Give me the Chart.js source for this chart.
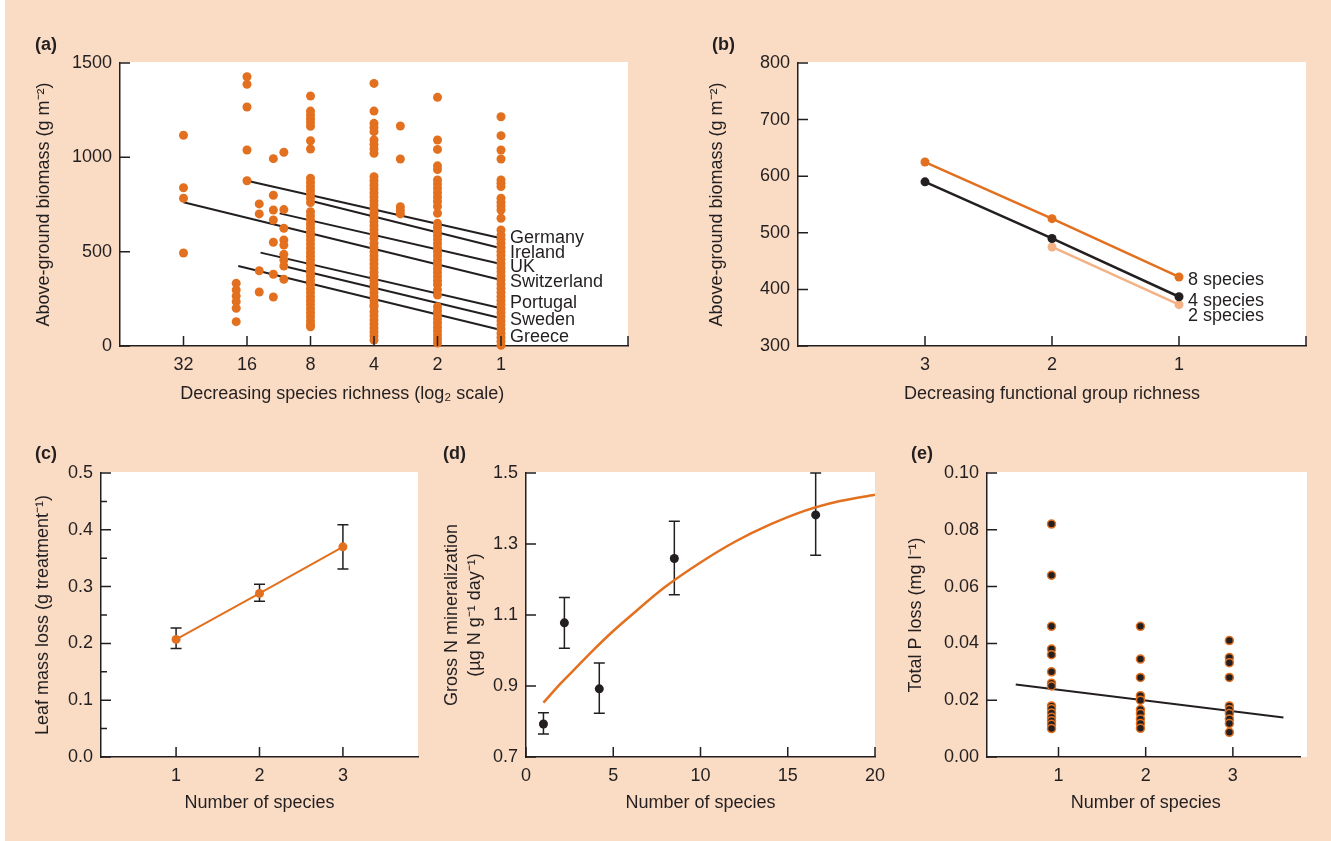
<!DOCTYPE html>
<html>
<head>
<meta charset="utf-8">
<script src="https://cdn.jsdelivr.net/npm/chart.js@4.4.1/dist/chart.umd.min.js"></script>
<style>
  body { margin: 0; background: #fff; }
  #page { position: relative; width: 1331px; height: 841px; overflow: hidden; }
  #bg { position: absolute; left: 5px; top: 0; width: 1326px; height: 841px; background: #fadcc5; }
  canvas { position: absolute; left: 0; top: 0; }
  .tag { position: absolute; font: bold 18px "Liberation Sans", Arial, sans-serif; color: #231f20; line-height: 20px; }
</style>
</head>
<body>
<div id="page">
  <div id="bg"></div>
  <canvas id="chartA" width="1331" height="841"></canvas>
  <canvas id="chartB" width="1331" height="841"></canvas>
  <canvas id="chartC" width="1331" height="841"></canvas>
  <canvas id="chartD" width="1331" height="841"></canvas>
  <canvas id="chartE" width="1331" height="841"></canvas>
  <div class="tag" style="left:35px;top:34px">(a)</div>
  <div class="tag" style="left:712px;top:34px">(b)</div>
  <div class="tag" style="left:35px;top:443px">(c)</div>
  <div class="tag" style="left:443px;top:443px">(d)</div>
  <div class="tag" style="left:911px;top:443px">(e)</div>
</div>
<script>
const W = 1331, H = 841;
const ink = '#231f20';
const orange = '#e2701f';
const lightOrange = '#f3b285';

// (a) biomass vs species richness, one array per richness level
const xTicksA = [32, 16, 8, 4, 2, 1];
const yTicksA = [0, 500, 1000, 1500];
const biomass32 = [1117, 839, 783, 493];
const biomass18 = [332, 297, 265, 235, 200, 129];
const biomass16 = [1427, 1387, 1267, 1039, 876];
const biomass14 = [753, 700, 399, 286];
const biomass12 = [993, 799, 721, 668, 550, 380, 260];
const biomass11 = [1027, 723, 624, 562, 535, 486, 456, 424, 354];
const biomass8 = [1325, 1245, 1225, 1205, 1185, 1165, 1088, 1044,
  889, 868, 846, 825, 804, 782, 760,
  712, 690, 668, 647, 626, 604, 583, 562, 540, 518, 497, 476, 455, 433, 412, 390,
  370, 348, 327, 305, 284, 262, 241, 220, 198, 176, 155, 133, 112, 102];
const biomass4 = [1392, 1245, 1180, 1158, 1136, 1092, 1068, 1045, 1021,
  897, 876, 854, 833, 811, 790, 768, 747, 725, 703, 682, 660, 638, 616, 594, 571,
  544, 522, 500, 478, 457, 435, 413, 391, 370, 348, 326, 304, 283, 261, 240, 218, 208,
  182, 160, 138, 116, 95, 74, 53, 32];
const biomass3 = [1166, 991, 738, 718, 700];
const biomass2 = [1318, 1092, 1042, 955, 935,
  880, 858, 836, 812, 790, 766, 740, 703,
  650, 628, 607, 585, 564, 542, 520, 498, 477, 455, 433, 411, 390, 368, 346, 325, 297, 270,
  208, 186, 165, 143, 122, 100, 79, 58, 37, 16];
const biomass1 = [1215, 1115, 1039, 991, 880, 862, 845, 783, 762, 742, 721, 677, 615,
  588, 566, 545, 523, 501, 480, 458, 436, 414, 393, 371, 350, 328, 306, 285, 263, 241,
  220, 198, 176, 155, 133, 112, 90, 68, 47, 25, 4];
const columnsA = [
  [32, biomass32], [18, biomass18], [16, biomass16], [14, biomass14], [12, biomass12],
  [10.7, biomass11], [8, biomass8], [4, biomass4], [3, biomass3], [2, biomass2], [1, biomass1]
];

// (a) fitted lines per country: start richness/biomass, end biomass at 1 species
const countries = ['Germany', 'Ireland', 'UK', 'Switzerland', 'Portugal', 'Sweden', 'Greece'];
const lineStartRichness = [16, 8, 11.2, 32, 13.8, 10.4, 17.6];
const lineStartBiomass = [876, 770, 703, 762, 495, 420, 424];
const lineEndBiomass = [571, 518, 435, 350, 200, 147, 85];

// (b) biomass vs functional group richness
const groupRichness = [3, 2, 1];
const xTicksB = [3, 2, 1];
const yTicksB = [300, 400, 500, 600, 700, 800];
const biomass8sp = [625, 525, 422];
const biomass4sp = [590, 490, 387];
const biomass2sp = [null, 475, 373];

// (c) leaf mass loss
const speciesC = [1, 2, 3];
const xTicksC = [1, 2, 3];
const yTicksC = [0, 0.1, 0.2, 0.3, 0.4, 0.5];
const leafLoss = [0.207, 0.288, 0.370];
const leafLossLow = [0.191, 0.274, 0.331];
const leafLossHigh = [0.227, 0.304, 0.409];

// (d) gross N mineralization
const speciesD = [1, 2.2, 4.2, 8.5, 16.6];
const xTicksD = [0, 5, 10, 15, 20];
const yTicksD = [0.7, 0.9, 1.1, 1.3, 1.5];
const nMin = [0.793, 1.078, 0.892, 1.259, 1.382];
const nMinLow = [0.765, 1.006, 0.823, 1.157, 1.268];
const nMinHigh = [0.825, 1.149, 0.965, 1.364, 1.5];
const fitX = [1, 2, 3, 4, 5, 6, 8, 10, 12, 14, 16, 18, 20];
const fitY = [0.853, 0.908, 0.958, 1.008, 1.055, 1.098, 1.18, 1.248, 1.307, 1.355, 1.394, 1.421, 1.439];

// (e) total P loss
const speciesE = [0.92, 1.94, 2.96];
const xTicksE = [1, 2, 3];
const yTicksE = [0, 0.02, 0.04, 0.06, 0.08, 0.10];
const pLoss1 = [0.082, 0.064, 0.046, 0.038, 0.036, 0.030, 0.026, 0.025, 0.018, 0.017, 0.0155, 0.014, 0.0128, 0.0115, 0.010];
const pLoss2 = [0.046, 0.0345, 0.028, 0.0216, 0.020, 0.0167, 0.0153, 0.0134, 0.0118, 0.0101];
const pLoss3 = [0.041, 0.035, 0.0332, 0.028, 0.018, 0.0167, 0.0153, 0.0134, 0.0118, 0.0087];
const pFitX = [0.51, 3.58];
const pFitY = [0.0255, 0.0139];

Chart.defaults.font.family = '"Liberation Sans", Arial, sans-serif';
Chart.defaults.font.size = 18;
Chart.defaults.color = ink;

// white plot area
const plotBg = {
  id: 'plotBg',
  beforeDraw(chart, args, opts) {
    const a = chart.chartArea, ctx = chart.ctx;
    ctx.save();
    ctx.fillStyle = '#fff';
    ctx.fillRect(a.left, a.top - 1, a.right - a.left + (opts.extra || 0), a.bottom - a.top + 1);
    ctx.restore();
  }
};

// tick marks pointing into the plot
const inwardTicks = {
  id: 'inwardTicks',
  afterDraw(chart, args, opts) {
    const {ctx, chartArea: a, scales: {x, y}} = chart;
    ctx.save();
    ctx.strokeStyle = ink;
    ctx.lineWidth = 1.5;
    ctx.beginPath();
    x.ticks.forEach(t => {
      const px = x.getPixelForValue(t.value);
      ctx.moveTo(px, a.bottom); ctx.lineTo(px, a.bottom - 10);
    });
    if (opts.endTick) { ctx.moveTo(a.right, a.bottom); ctx.lineTo(a.right, a.bottom - 10); }
    y.ticks.forEach((t, i) => {
      const py = y.getPixelForValue(t.value);
      ctx.moveTo(a.left, py); ctx.lineTo(a.left + 10, py);
      if (opts.minor && i > 0) {
        const pm = (py + y.getPixelForValue(y.ticks[i - 1].value)) / 2;
        ctx.moveTo(a.left, pm); ctx.lineTo(a.left + 6, pm);
      }
    });
    ctx.stroke();
    ctx.restore();
  }
};

const errorBars = {
  id: 'errorBars',
  beforeDatasetsDraw(chart) {
    const {ctx, scales: {y}} = chart;
    chart.data.datasets.forEach((ds, i) => {
      if (!ds.errLow) return;
      const meta = chart.getDatasetMeta(i);
      ctx.save();
      ctx.strokeStyle = ink;
      ctx.lineWidth = 1.5;
      ctx.beginPath();
      meta.data.forEach((pt, j) => {
        const y1 = y.getPixelForValue(ds.errLow[j]);
        const y2 = y.getPixelForValue(ds.errHigh[j]);
        ctx.moveTo(pt.x, y1); ctx.lineTo(pt.x, y2);
        ctx.moveTo(pt.x - 5.5, y1); ctx.lineTo(pt.x + 5.5, y1);
        ctx.moveTo(pt.x - 5.5, y2); ctx.lineTo(pt.x + 5.5, y2);
      });
      ctx.stroke();
      ctx.restore();
    });
  }
};

// dataset names written next to the last point
const endLabels = {
  id: 'endLabels',
  afterDatasetsDraw(chart, args, opts) {
    if (!opts.offsets) return;
    const ctx = chart.ctx;
    ctx.save();
    ctx.font = '18px "Liberation Sans", Arial, sans-serif';
    ctx.fillStyle = ink;
    ctx.textBaseline = 'middle';
    chart.data.datasets.forEach((ds, i) => {
      const off = opts.offsets[ds.label];
      if (off === undefined) return;
      const pts = chart.getDatasetMeta(i).data;
      const pt = pts[pts.length - 1];
      ctx.fillText(ds.label, pt.x + opts.dx, pt.y + off);
    });
    ctx.restore();
  }
};

Chart.register(plotBg, inwardTicks, errorBars, endLabels);

// place the plot box by padding and fixed axis sizes
function frame(box) {
  const lh = box.lh || 21.6;
  const padLeft = box.yTitleX - lh / 2;
  const padBottom = H - box.xTitleY - 10.8;
  return {
    padding: {left: padLeft, top: box.t, right: W - box.r, bottom: padBottom},
    yWidth: box.l - padLeft,
    xHeight: H - padBottom - box.b
  };
}

// x title sits centred under the labelled ticks, not under the whole axis
function centreTitleOnTicks(s) {
  if (s._titleCentred) return;
  const draw = s.drawTitle;
  s.drawTitle = function () {
    const p = this.ticks.map(t => this.getPixelForValue(t.value));
    const dx = (Math.min(...p) + Math.max(...p)) / 2 - (this.left + this.right) / 2;
    this.ctx.save();
    this.ctx.translate(dx, 0);
    draw.call(this);
    this.ctx.restore();
  };
  s._titleCentred = true;
}

function xScale(o, h) {
  return {
    type: 'linear', min: o.min, max: o.max, reverse: !!o.reverse,
    grid: {display: false, drawTicks: false},
    border: {display: true, color: ink, width: 1.5},
    ticks: {padding: 8, color: ink, autoSkip: false, maxRotation: 0, callback: o.label},
    afterBuildTicks: s => { s.ticks = o.ticks.map(v => ({value: v})); },
    afterFit: s => { s.height = h; centreTitleOnTicks(s); },
    title: {display: true, text: o.title, color: ink, padding: 0}
  };
}

function yScale(o, w) {
  return {
    type: 'linear', min: o.min, max: o.max,
    grid: {display: false, drawTicks: false},
    border: {display: true, color: ink, width: 1.5},
    ticks: {padding: 8, color: ink, autoSkip: false, callback: o.label},
    afterBuildTicks: s => { s.ticks = o.ticks.map(v => ({value: v})); },
    afterFit: s => { s.width = w; },
    title: {display: true, text: o.title, color: ink, padding: 0,
      font: {size: 18, lineHeight: o.lh ? o.lh / 18 : 1.2}}
  };
}

function makeChart(id, box, xo, yo, datasets, plugins) {
  const f = frame(box);
  return new Chart(document.getElementById(id), {
    type: 'scatter',
    data: {datasets},
    options: {
      responsive: false, animation: false, events: [], devicePixelRatio: 1,
      layout: {padding: f.padding},
      scales: {x: xScale(xo, f.xHeight), y: yScale(yo, f.yWidth)},
      plugins: Object.assign({legend: {display: false}, tooltip: {enabled: false}}, plugins)
    }
  });
}

const dot = (color, r) => ({
  backgroundColor: color, borderColor: color, pointBackgroundColor: color,
  pointBorderWidth: 0, pointRadius: r, pointHoverRadius: r, clip: false
});

// (a)
makeChart('chartA',
  {l: 120, t: 63, r: 628, b: 346, yTitleX: 44, xTitleY: 394},
  {min: -2, max: 6, reverse: true, ticks: xTicksA.map(Math.log2),
    label: (v, i) => xTicksA[i], title: 'Decreasing species richness (log₂ scale)'},
  {min: 0, max: 1500, ticks: yTicksA, label: v => v, title: 'Above-ground biomass (g m⁻²)'},
  [
    Object.assign({
      label: 'plots', order: 1,
      data: columnsA.flatMap(([n, vals]) => vals.map(v => ({x: Math.log2(n), y: v})))
    }, dot(orange, 4.5)),
    ...countries.map((c, i) => ({
      label: c, order: 2, showLine: true, borderColor: ink, borderWidth: 2, pointRadius: 0,
      data: [{x: Math.log2(lineStartRichness[i]), y: lineStartBiomass[i]}, {x: 0, y: lineEndBiomass[i]}]
    }))
  ],
  {inwardTicks: {endTick: true},
   endLabels: {dx: 9, offsets: {Germany: 0, Ireland: 5, UK: 3, Switzerland: 2, Portugal: -5, Sweden: 2, Greece: 7}}}
);

// (b)
const seriesB = (vals) => groupRichness.map((g, i) => ({x: g, y: vals[i]})).filter(p => p.y !== null);
makeChart('chartB',
  {l: 798, t: 63, r: 1306, b: 346, yTitleX: 717, xTitleY: 394},
  {min: 0, max: 4, reverse: true, ticks: xTicksB, label: v => v, title: 'Decreasing functional group richness'},
  {min: 300, max: 800, ticks: yTicksB, label: v => v, title: 'Above-ground biomass (g m⁻²)'},
  [
    Object.assign({label: '8 species', order: 1, showLine: true, borderWidth: 2.5, data: seriesB(biomass8sp)}, dot(orange, 4.5)),
    Object.assign({label: '4 species', order: 2, showLine: true, borderWidth: 2.5, data: seriesB(biomass4sp)}, dot(ink, 4.5)),
    Object.assign({label: '2 species', order: 3, showLine: true, borderWidth: 2.5, data: seriesB(biomass2sp)}, dot(lightOrange, 4.5))
  ],
  {inwardTicks: {endTick: true},
   endLabels: {dx: 9, offsets: {'8 species': 3, '4 species': 4, '2 species': 11}}}
);

// (c)
makeChart('chartC',
  {l: 101, t: 473, r: 418, b: 757, yTitleX: 43, xTitleY: 803},
  {min: 0.1, max: 3.9, ticks: xTicksC, label: v => v, title: 'Number of species'},
  {min: 0, max: 0.5, ticks: yTicksC, label: v => v.toFixed(1), title: 'Leaf mass loss (g treatment⁻¹)'},
  [
    Object.assign({
      label: 'leaf', showLine: true, borderWidth: 2,
      errLow: leafLossLow, errHigh: leafLossHigh,
      data: speciesC.map((s, i) => ({x: s, y: leafLoss[i]}))
    }, dot(orange, 4.5))
  ],
  {inwardTicks: {minor: true}}
);

// (d)
makeChart('chartD',
  {l: 526, t: 473, r: 875, b: 757, yTitleX: 452, xTitleY: 803, lh: 23.4},
  {min: 0, max: 20, ticks: xTicksD, label: v => v, title: 'Number of species'},
  {min: 0.7, max: 1.5, ticks: yTicksD, label: v => v.toFixed(1), lh: 23.4,
    title: ['Gross N mineralization', '(µg N g⁻¹ day⁻¹)']},
  [
    Object.assign({
      label: 'means', order: 1, errLow: nMinLow, errHigh: nMinHigh,
      data: speciesD.map((s, i) => ({x: s, y: nMin[i]}))
    }, dot(ink, 4.5)),
    {
      label: 'fit', order: 2, showLine: true, borderColor: orange, borderWidth: 2.5, pointRadius: 0,
      cubicInterpolationMode: 'monotone',
      data: fitX.map((x, i) => ({x, y: fitY[i]}))
    }
  ],
  {}
);

// (e)
const pointsE = [pLoss1, pLoss2, pLoss3].flatMap((vals, k) => vals.map(v => ({x: speciesE[k], y: v})));
makeChart('chartE',
  {l: 987, t: 473, r: 1300, b: 757, yTitleX: 916, xTitleY: 803},
  {min: 0.18, max: 3.77, ticks: xTicksE, label: v => v, title: 'Number of species'},
  {min: 0, max: 0.1, ticks: yTicksE, label: v => v.toFixed(2), title: 'Total P loss (mg l⁻¹)'},
  [
    {
      label: 'plots', order: 1, data: pointsE, clip: false,
      pointRadius: 4, pointBackgroundColor: ink, pointBorderColor: orange, pointBorderWidth: 1.5
    },
    {
      label: 'fit', order: 2, showLine: true, borderColor: ink, borderWidth: 2, pointRadius: 0,
      data: pFitX.map((x, i) => ({x, y: pFitY[i]}))
    }
  ],
  {plotBg: {extra: 7}}
);
</script>
</body>
</html>
